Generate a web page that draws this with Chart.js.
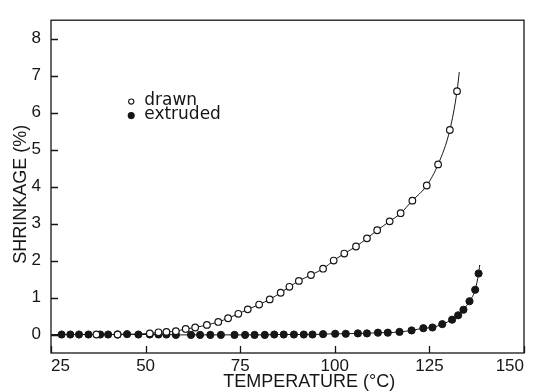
<!DOCTYPE html>
<html>
<head>
<meta charset="utf-8">
<script src="https://cdn.jsdelivr.net/npm/chart.js@4.4.0/dist/chart.umd.min.js"></script>
<style>
html, body { margin: 0; padding: 0; background: #fff; }
</style>
</head>
<body>
<canvas id="shrinkage-chart" width="533" height="391"></canvas>
<script>
// values
var drawnTemp = [37.0, 42.6, 51.1, 53.4, 55.5, 58.0, 60.6, 63.1, 66.2, 69.2, 71.8, 74.5, 77.0, 80.0, 82.8, 85.7,
	88.0, 90.5, 93.7, 96.9, 99.7, 102.5, 105.6, 108.5, 111.2, 114.5, 117.4, 120.5, 124.3, 127.3, 130.4, 132.3];
var drawnShrink = [0.00, 0.00, 0.03, 0.06, 0.07, 0.09, 0.15, 0.19, 0.26, 0.34, 0.44, 0.56, 0.68, 0.81, 0.95, 1.13,
	1.29, 1.45, 1.61, 1.78, 2.00, 2.19, 2.38, 2.60, 2.82, 3.06, 3.28, 3.62, 4.03, 4.60, 5.53, 6.58];

var extrudedTemp = [27.8, 30.1, 32.4, 34.9, 38.0, 40.1, 42.6, 45.1, 48.1, 51.1, 53.4, 55.5, 58.0, 62.0, 64.4,
	67.1, 69.9, 73.5, 76.3, 78.8, 81.5, 84.0, 86.5, 89.2, 91.8, 94.1, 96.9, 100.1, 102.9, 106.1, 108.5, 111.4,
	114.0, 117.1, 120.3, 123.4, 125.8, 128.4, 131.0, 132.6, 134.0, 135.6, 137.1, 138.0];
var extrudedShrink = [0, 0, 0, 0, 0, 0, 0, 0.01, 0, 0, 0, 0, -0.01, -0.01, -0.01,
	-0.01, -0.01, -0.01, -0.01, -0.01, -0.01, 0, 0, 0, 0, 0, 0.01, 0.02, 0.02, 0.03, 0.03, 0.05,
	0.05, 0.07, 0.11, 0.17, 0.19, 0.28, 0.40, 0.52, 0.67, 0.90, 1.21, 1.65];

// the hand drawn curves run a little past the measured points
var drawnCurveEnd = [132.9, 7.1];
var extrudedCurveStart = [25, 0];
var extrudedCurveEnd = [138.3, 1.88];

var xTicks = [25, 50, 75, 100, 125, 150];
var yTicks = [0, 1, 2, 3, 4, 5, 6, 7, 8];
var seriesLabels = ['drawn', 'extruded'];
var xTitle = 'TEMPERATURE (°C)';
var yTitle = 'SHRINKAGE (%)';

var ink = '#161616';

function toPoints(xs, ys) {
	var res = [];
	for (var i = 0; i < xs.length; ++i) {
		res.push({x: xs[i], y: ys[i]});
	}
	return res;
}

var drawnPoints = toPoints(drawnTemp, drawnShrink);
var extrudedPoints = toPoints(extrudedTemp, extrudedShrink);
var drawnCurve = drawnPoints.concat([{x: drawnCurveEnd[0], y: drawnCurveEnd[1]}]);
var extrudedCurve = [{x: extrudedCurveStart[0], y: extrudedCurveStart[1]}]
	.concat(extrudedPoints, [{x: extrudedCurveEnd[0], y: extrudedCurveEnd[1]}]);

var openMarker = { pointStyle: 'circle', pointRadius: 3.3, pointBorderWidth: 1.2, pointBorderColor: ink, pointBackgroundColor: '#fff' };
var fullMarker = { pointStyle: 'circle', pointRadius: 3.6, pointBorderWidth: 1, pointBorderColor: ink, pointBackgroundColor: ink };

// box, inward ticks, legend and axis titles
var framePlugin = {
	id: 'frame',
	afterDraw: function(chart) {
		var ctx = chart.ctx, a = chart.chartArea;
		var sx = chart.scales.x, sy = chart.scales.y;
		ctx.save();
		ctx.strokeStyle = ink;
		ctx.lineWidth = 1.3;
		ctx.strokeRect(a.left, a.top, a.right - a.left, a.bottom - a.top);

		ctx.beginPath();
		xTicks.forEach(function(v) {
			var px = Math.round(sx.getPixelForValue(v)) + 0.5;
			ctx.moveTo(px, a.bottom);
			ctx.lineTo(px, a.bottom - 7);
		});
		yTicks.forEach(function(v) {
			var py = Math.round(sy.getPixelForValue(v)) + 0.5;
			ctx.moveTo(a.left, py);
			ctx.lineTo(a.left + 7, py);
		});
		ctx.stroke();

		// legend
		var lx = sx.getPixelForValue(46.2);
		var rows = [sy.getPixelForValue(6.30), sy.getPixelForValue(5.92)];
		var marks = [openMarker, fullMarker];
		ctx.font = '17px "DejaVu Sans"';
		ctx.textBaseline = 'middle';
		ctx.textAlign = 'left';
		for (var i = 0; i < 2; ++i) {
			ctx.beginPath();
			ctx.arc(lx, rows[i], i === 0 ? 2.6 : 3, 0, Math.PI * 2);
			ctx.fillStyle = marks[i].pointBackgroundColor;
			ctx.fill();
			ctx.lineWidth = 1.1;
			ctx.strokeStyle = ink;
			ctx.stroke();
			ctx.fillStyle = ink;
			ctx.fillText(seriesLabels[i], lx + 13, rows[i] - 1);
		}

		// axis titles
		ctx.font = '18px "Liberation Sans"';
		ctx.textAlign = 'center';
		ctx.fillText(xTitle, a.left + (a.right - a.left) * 0.546, 382);
		ctx.translate(21, a.top + (a.bottom - a.top) * 0.523);
		ctx.rotate(-Math.PI / 2);
		ctx.fillText(yTitle, 0, 0);
		ctx.restore();
	}
};

var tickFont = { family: 'Liberation Sans', size: 17 };

var chart = new Chart(document.getElementById('shrinkage-chart').getContext('2d'), {
	type: 'scatter',
	data: {
		datasets: [
			Object.assign({ label: seriesLabels[0], data: drawnPoints, showLine: false, order: 1 }, openMarker),
			Object.assign({ label: seriesLabels[1], data: extrudedPoints, showLine: false, order: 1 }, fullMarker),
			{ label: 'drawn curve', data: drawnCurve, showLine: true, pointRadius: 0, borderColor: ink, borderWidth: 1,
				cubicInterpolationMode: 'monotone', order: 2 },
			{ label: 'extruded curve', data: extrudedCurve, showLine: true, pointRadius: 0, borderColor: ink, borderWidth: 1,
				cubicInterpolationMode: 'monotone', order: 2 }
		]
	},
	options: {
		responsive: false,
		animation: false,
		devicePixelRatio: 1,
		layout: { padding: { left: 0, right: 9, top: 13, bottom: 0 } },
		plugins: { legend: { display: false }, tooltip: { enabled: false } },
		scales: {
			x: {
				type: 'linear', min: 25, max: 150,
				afterBuildTicks: function(s) { s.ticks = xTicks.map(function(v) { return {value: v}; }); },
				afterFit: function(s) { s.height = 38; },
				grid: { display: false, drawTicks: false }, border: { display: false },
				ticks: { font: tickFont, color: ink, padding: 3, maxRotation: 0, align: 'inner' }
			},
			y: {
				type: 'linear', min: -0.5, max: 8.5,
				afterBuildTicks: function(s) { s.ticks = yTicks.map(function(v) { return {value: v}; }); },
				afterFit: function(s) { s.width = 51; },
				grid: { display: false, drawTicks: false }, border: { display: false },
				ticks: { font: tickFont, color: ink, padding: 10 }
			}
		}
	},
	plugins: [framePlugin]
});
</script>
</body>
</html>
